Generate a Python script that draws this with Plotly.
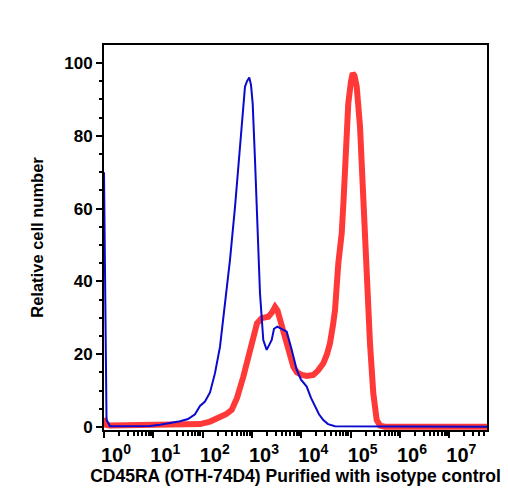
import plotly.graph_objects as go

# log10 fluorescence intensity and relative cell number
blue_log = [0.000, 0.051, 0.122, 0.932, 1.135, 1.338, 1.541, 1.703, 1.845, 1.946, 2.047,
            2.149, 2.250, 2.351, 2.418, 2.493, 2.554, 2.656, 2.722, 2.791, 2.858, 2.899,
            2.945, 2.980, 3.014, 3.061, 3.108, 3.162, 3.229, 3.298, 3.400, 3.446, 3.513,
            3.608, 3.704, 3.805, 3.907, 3.994, 4.109, 4.196, 4.277, 4.358, 4.446, 4.541,
            4.683, 7.764]
blue_val = [70, 2, 0.2, 0.3, 0.6, 1.0, 1.6, 2.2, 3.5, 5.8, 7.0,
            9.5, 14.8, 22, 30.3, 38, 45.9, 60.5, 71.5, 83.4, 93.5, 95,
            96, 94, 88.9, 73.4, 55, 36.8, 23.9, 21.2, 23.9, 27, 27.6,
            27, 26.2, 21.2, 15.7, 13, 11.1, 8, 5.6, 3.5, 1.9, 0.8,
            0.2, 0.1]

red_log = [0.000, 0.041, 0.122, 1.743, 1.946, 2.149, 2.351, 2.473, 2.589, 2.696, 2.824,
           2.919, 3.027, 3.102, 3.197, 3.331, 3.406, 3.467, 3.517, 3.568, 3.629, 3.704,
           3.771, 3.837, 3.912, 4.008, 4.115, 4.243, 4.338, 4.446, 4.520, 4.581, 4.642,
           4.683, 4.750, 4.819, 4.855, 4.885, 4.952, 5.007, 5.042, 5.078, 5.123, 5.190,
           5.256, 5.325, 5.392, 5.459, 5.528, 5.595, 5.696, 7.764]
red_val = [2.5, 0.6, 0.4, 0.4, 0.8, 1.5, 2.5, 3.5, 4.7, 8, 13.8,
           19, 25.7, 28.5, 29.9, 30.3, 31.5, 33, 32, 29.4, 26, 22,
           19, 16.6, 15, 14.3, 14, 14.3, 15.5, 17.5, 20, 23, 28,
           32.1, 45, 53.2, 62, 73.4, 88.9, 95, 97.2, 96.5, 93.5, 82.5,
           61.4, 41.3, 23, 9.3, 1.9, 0.4, 0.1, 0.1]

decades = [0, 1, 2, 3, 4, 5, 6, 7]
x_tick_text = ["10<sup>%d</sup>" % d for d in decades]
y_ticks = [0, 20, 40, 60, 80, 100]

x_title = "CD45RA (OTH-74D4) Purified with isotype control"
y_title = "Relative cell number"

blue_x = [10 ** v for v in blue_log]
red_x = [10 ** v for v in red_log]

minor_vals = [k * 10 ** d for d in decades for k in range(2, 10)]

fig = go.Figure()
fig.add_trace(go.Scatter(x=red_x, y=red_val, mode="lines",
                         line=dict(color="#FF3838", width=6), showlegend=False))
fig.add_trace(go.Scatter(x=blue_x, y=blue_val, mode="lines",
                         line=dict(color="#0A0ACF", width=2), showlegend=False))

font_family = "Liberation Sans, Arial, Helvetica, sans-serif"

fig.update_layout(
    width=508, height=500,
    margin=dict(l=104, r=21, t=45, b=70),
    paper_bgcolor="white", plot_bgcolor="white",
    font=dict(family=font_family, color="black"),
)

fig.update_xaxes(
    type="log", range=[0, 7.764],
    tickmode="array", tickvals=[10 ** d for d in decades], ticktext=x_tick_text,
    ticks="outside", ticklen=6, tickwidth=2, tickcolor="black",
    ticklabelshift=12,
    minor=dict(tickmode="array", tickvals=minor_vals, ticks="outside",
               ticklen=3.5, tickwidth=1.5, tickcolor="black"),
    showline=True, linecolor="black", linewidth=2, mirror=True,
    showgrid=False, zeroline=False,
    tickfont=dict(size=20, weight="bold"),
    title=dict(text=x_title, font=dict(size=17.5, weight="bold"), standoff=4),
)

fig.update_yaxes(
    range=[-0.82, 104.95],
    tickmode="array", tickvals=y_ticks,
    ticks="outside", ticklen=6, tickwidth=2, tickcolor="black",
    minor=dict(tickmode="array", tickvals=[v for v in range(5, 105, 5) if v % 20 != 0],
               ticks="outside", ticklen=3.5, tickwidth=1.5, tickcolor="black"),
    showline=True, linecolor="black", linewidth=2, mirror=True,
    showgrid=False, zeroline=False,
    tickfont=dict(size=17, weight="bold"),
    title=dict(text=y_title, font=dict(size=16.5, weight="bold"), standoff=16),
)

fig.write_html("out.html")
